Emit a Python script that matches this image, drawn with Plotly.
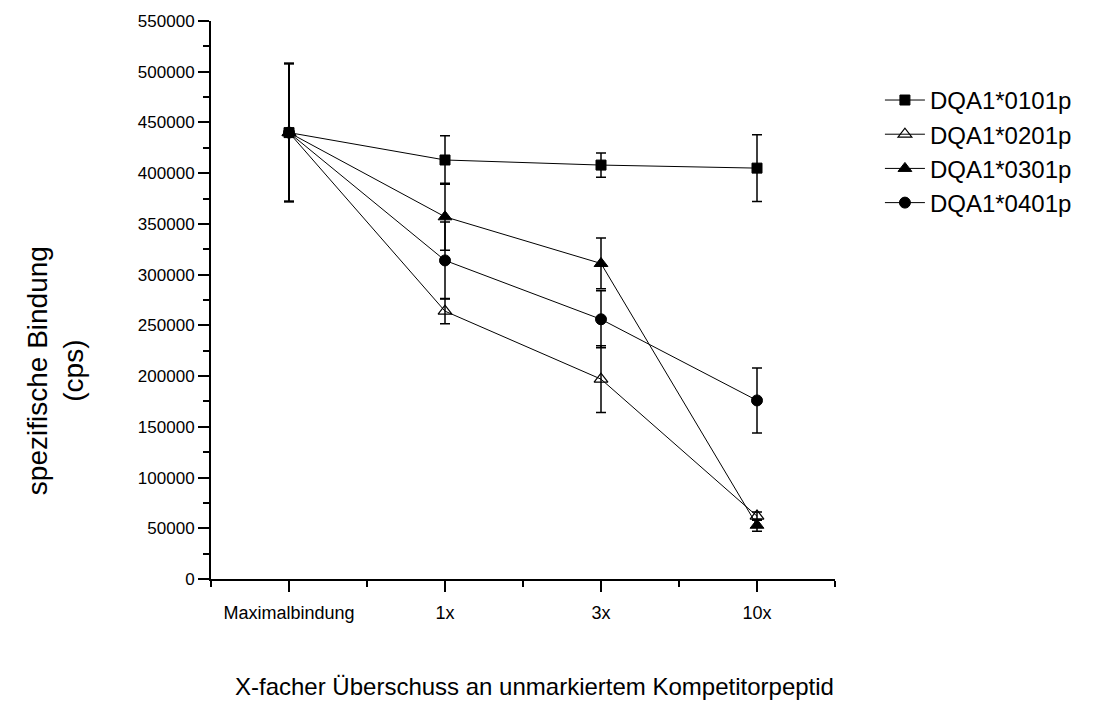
import plotly.graph_objects as go

categories = ["Maximalbindung", "1x", "3x", "10x"]

series_names = ["DQA1*0101p", "DQA1*0201p", "DQA1*0301p", "DQA1*0401p"]
dqa0101 = [440000, 413000, 408000, 405000]
dqa0101_err = [68000, 24000, 12000, 33000]
dqa0201 = [440000, 264000, 197000, 62000]
dqa0201_err = [68000, 12500, 33000, 4000]
dqa0301 = [440000, 357000, 311000, 53000]
dqa0301_err = [68000, 33000, 25000, 6000]
dqa0401 = [440000, 314000, 256000, 176000]
dqa0401_err = [68000, 38000, 28000, 32000]

y_ticks = list(range(0, 550001, 50000))

FONT = "Liberation Sans, Arial, sans-serif"
x_pos = list(range(len(categories)))

styles = {
    "DQA1*0101p": dict(symbol="square", size=10, color="black", line=dict(color="black", width=1)),
    "DQA1*0201p": dict(symbol="triangle-up-open", size=12, color="black", line=dict(color="black", width=1.2)),
    "DQA1*0301p": dict(symbol="triangle-up", size=12, color="black", line=dict(color="black", width=1)),
    "DQA1*0401p": dict(symbol="circle", size=11, color="black", line=dict(color="black", width=1)),
}
data = {
    "DQA1*0101p": (dqa0101, dqa0101_err),
    "DQA1*0201p": (dqa0201, dqa0201_err),
    "DQA1*0301p": (dqa0301, dqa0301_err),
    "DQA1*0401p": (dqa0401, dqa0401_err),
}
draw_order = ["DQA1*0201p", "DQA1*0301p", "DQA1*0401p", "DQA1*0101p"]

fig = go.Figure()
for name in draw_order:
    vals, errs = data[name]
    fig.add_trace(go.Scatter(
        x=x_pos, y=vals, name=name, mode="lines+markers",
        line=dict(color="black", width=1),
        marker=styles[name],
        error_y=dict(type="data", array=errs, visible=True, color="black", thickness=1.5, width=5),
        legendrank=series_names.index(name) + 1,
    ))

fig.update_layout(
    width=1105, height=704,
    margin=dict(l=211, r=270, t=18, b=125),
    paper_bgcolor="white", plot_bgcolor="white",
    font=dict(family=FONT, color="black"),
    showlegend=True,
    legend=dict(x=1.072, y=0.898, xanchor="left", yanchor="top",
                font=dict(size=24, family=FONT), bgcolor="rgba(0,0,0,0)",
                itemwidth=40, tracegroupgap=0),
    xaxis=dict(range=[-0.5, 3.5], tickvals=x_pos, ticktext=categories,
               showgrid=False, zeroline=False, showline=True, linecolor="black", linewidth=2,
               ticks="outside", ticklen=11, tickwidth=2, tickcolor="black",
               ticklabelstandoff=5,
               tickfont=dict(size=18, family=FONT),
               minor=dict(tickvals=[-0.5, 0.5, 1.5, 2.5, 3.5], ticks="outside", ticklen=6,
                          tickwidth=2, tickcolor="black", showgrid=False)),
    yaxis=dict(range=[0, 550000], tickvals=y_ticks, ticktext=[str(v) for v in y_ticks],
               showgrid=False, zeroline=False, showline=True, linecolor="black", linewidth=2,
               ticks="outside", ticklen=11, tickwidth=2, tickcolor="black",
               tickfont=dict(size=17, family=FONT),
               minor=dict(dtick=25000, tick0=0, ticks="outside", ticklen=6,
                          tickwidth=2, tickcolor="black", showgrid=False)),
    annotations=[
        dict(text="X-facher Überschuss an unmarkiertem Kompetitorpeptid",
             xref="paper", yref="paper", x=0.518, y=-0.1925, xanchor="center", yanchor="middle",
             showarrow=False, font=dict(size=24, family=FONT)),
        dict(text="spezifische Bindung<br>(cps)",
             xref="paper", yref="paper", x=-0.25, y=0.3725, xanchor="center", yanchor="middle",
             showarrow=False, textangle=-90, font=dict(size=28, family=FONT)),
    ],
)

fig.write_html("out.html")
